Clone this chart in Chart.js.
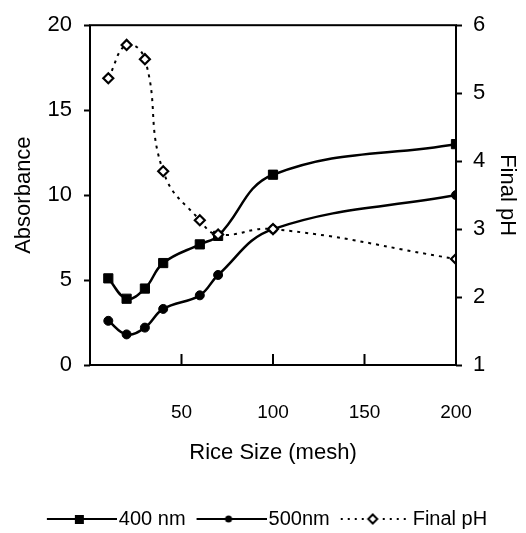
<!DOCTYPE html>
<html><head><meta charset="utf-8">
<script src="https://cdn.jsdelivr.net/npm/chart.js@4"></script>
<style>html,body{margin:0;padding:0;background:#fff}</style>
</head><body>
<canvas id="c" width="526" height="533"></canvas>
<script>
const meshSizes = [10, 20, 30, 40, 60, 70, 100, 200];
const abs400 = [5.1, 3.9, 4.5, 6.0, 7.1, 7.6, 11.2, 13.0];
const abs500 = [2.6, 1.8, 2.2, 3.3, 4.1, 5.3, 8.0, 10.0];
const finalPH = [5.22, 5.71, 5.50, 3.85, 3.13, 2.92, 3.0, 2.56];
const seriesNames = ['400 nm', '500nm', 'Final pH'];
const xTitle = 'Rice Size (mesh)';
const yTitle = 'Absorbance';
const y1Title = 'Final pH';

const FONT = "'Liberation Sans', Arial, sans-serif";
const pts = arr => meshSizes.map((x, i) => ({x, y: arr[i]}));

function makeSymbol(kind) {
  const cv = document.createElement('canvas');
  cv.width = 86; cv.height = 14;
  const g = cv.getContext('2d');
  const x0 = 16, x1 = 86, cy = 7;
  g.strokeStyle = '#000'; g.lineWidth = 2;
  if (kind === 2) g.setLineDash([2, 5]);
  g.beginPath(); g.moveTo(x0, cy); g.lineTo(x1, cy); g.stroke();
  g.setLineDash([]);
  const mx = x0 + 32;
  g.fillStyle = '#000';
  if (kind === 0) { g.fillRect(mx - 4, cy - 4, 9, 9); }
  else if (kind === 1) { g.beginPath(); g.arc(mx, cy, 3.5, 0, Math.PI * 2); g.fill(); }
  else {
    g.fillStyle = '#fff'; g.lineWidth = 2;
    g.beginPath(); g.moveTo(mx, cy - 4.5); g.lineTo(mx + 4.5, cy); g.lineTo(mx, cy + 4.5); g.lineTo(mx - 4.5, cy); g.closePath();
    g.fill(); g.stroke();
  }
  return cv;
}
const symbols = [makeSymbol(0), makeSymbol(1), makeSymbol(2)];

const framePlugin = {
  id: 'frame',
  afterDatasetsDraw(chart) {
    const {ctx, chartArea: a, scales} = chart;
    ctx.save();
    ctx.strokeStyle = '#000'; ctx.lineWidth = 2;
    ctx.strokeRect(a.left, a.top, a.right - a.left, a.bottom - a.top);
    const xs = scales.x;
    ctx.beginPath();
    xs.ticks.forEach(t => {
      if (t.value > xs.min && t.value < xs.max) {
        const px = xs.getPixelForValue(t.value);
        ctx.moveTo(px, a.bottom); ctx.lineTo(px, a.bottom - 11);
      }
    });
    ctx.stroke();
    ctx.restore();
  }
};

new Chart(document.getElementById('c'), {
  type: 'line',
  data: {
    datasets: [
      { label: seriesNames[0], data: pts(abs400), borderColor: '#000', backgroundColor: '#000', borderWidth: 2.5,
        pointStyle: 'rect', pointRadius: 6.5, pointBorderWidth: 1, tension: 0.4, yAxisID: 'y', order: 1 },
      { label: seriesNames[1], data: pts(abs500), borderColor: '#000', backgroundColor: '#000', borderWidth: 2.5,
        pointStyle: 'circle', pointRadius: 4.5, pointBorderWidth: 1, tension: 0.4, yAxisID: 'y', order: 2 },
      { label: seriesNames[2], data: pts(finalPH), borderColor: '#000', backgroundColor: '#fff', borderWidth: 2,
        borderDash: [3, 5], pointStyle: 'rectRot', pointRadius: 5, pointBorderWidth: 2.2, tension: 0.45, yAxisID: 'y1', order: 0 }
    ]
  },
  options: {
    responsive: false, animation: false, devicePixelRatio: 1,
    layout: { padding: { top: 18, left: 0, right: 0, bottom: 0 } },
    plugins: {
      tooltip: { enabled: false },
      legend: {
        position: 'bottom', maxHeight: 27,
        labels: {
          font: { family: FONT, size: 20 }, color: '#000', padding: 3,
          usePointStyle: true, pointStyleWidth: 70,
          generateLabels(chart) {
            return chart.data.datasets.map((d, i) => ({
              text: d.label, datasetIndex: i, pointStyle: symbols[i],
              fillStyle: '#000', strokeStyle: '#000', lineWidth: 0, hidden: false, fontColor: '#000'
            }));
          }
        }
      }
    },
    scales: {
      x: {
        type: 'linear', min: 0, max: 200,
        grid: { display: false },
        border: { display: false },
        ticks: { stepSize: 50, padding: 28, color: '#000', font: { family: FONT, size: 19 },
          callback: v => v === 0 ? '' : v },
        title: { display: true, text: xTitle, color: '#000', font: { family: FONT, size: 22 }, padding: { top: 0, bottom: 40 } },
        afterFit(s) { s.height = 141; }
      },
      y: {
        position: 'left', min: 0, max: 20,
        grid: { drawOnChartArea: false, drawTicks: true, tickLength: 6, tickWidth: 2, tickColor: '#000' },
        border: { display: false },
        ticks: { stepSize: 5, padding: 12, color: '#000', font: { family: FONT, size: 22 } },
        title: { display: true, text: yTitle, color: '#000', font: { family: FONT, size: 22 }, padding: { top: 11, bottom: 0 } },
        afterFit(s) { s.width = 90; }
      },
      y1: {
        position: 'right', min: 1, max: 6,
        grid: { drawOnChartArea: false, drawTicks: true, tickLength: 6, tickWidth: 2, tickColor: '#000' },
        border: { display: false },
        ticks: { stepSize: 1, padding: 11, color: '#000', font: { family: FONT, size: 22 } },
        title: { display: true, text: y1Title, color: '#000', font: { family: FONT, size: 22 }, padding: { top: 6, bottom: 0 } },
        afterFit(s) { s.width = 70; }
      }
    }
  },
  plugins: [framePlugin]
});
</script>
</body></html>
